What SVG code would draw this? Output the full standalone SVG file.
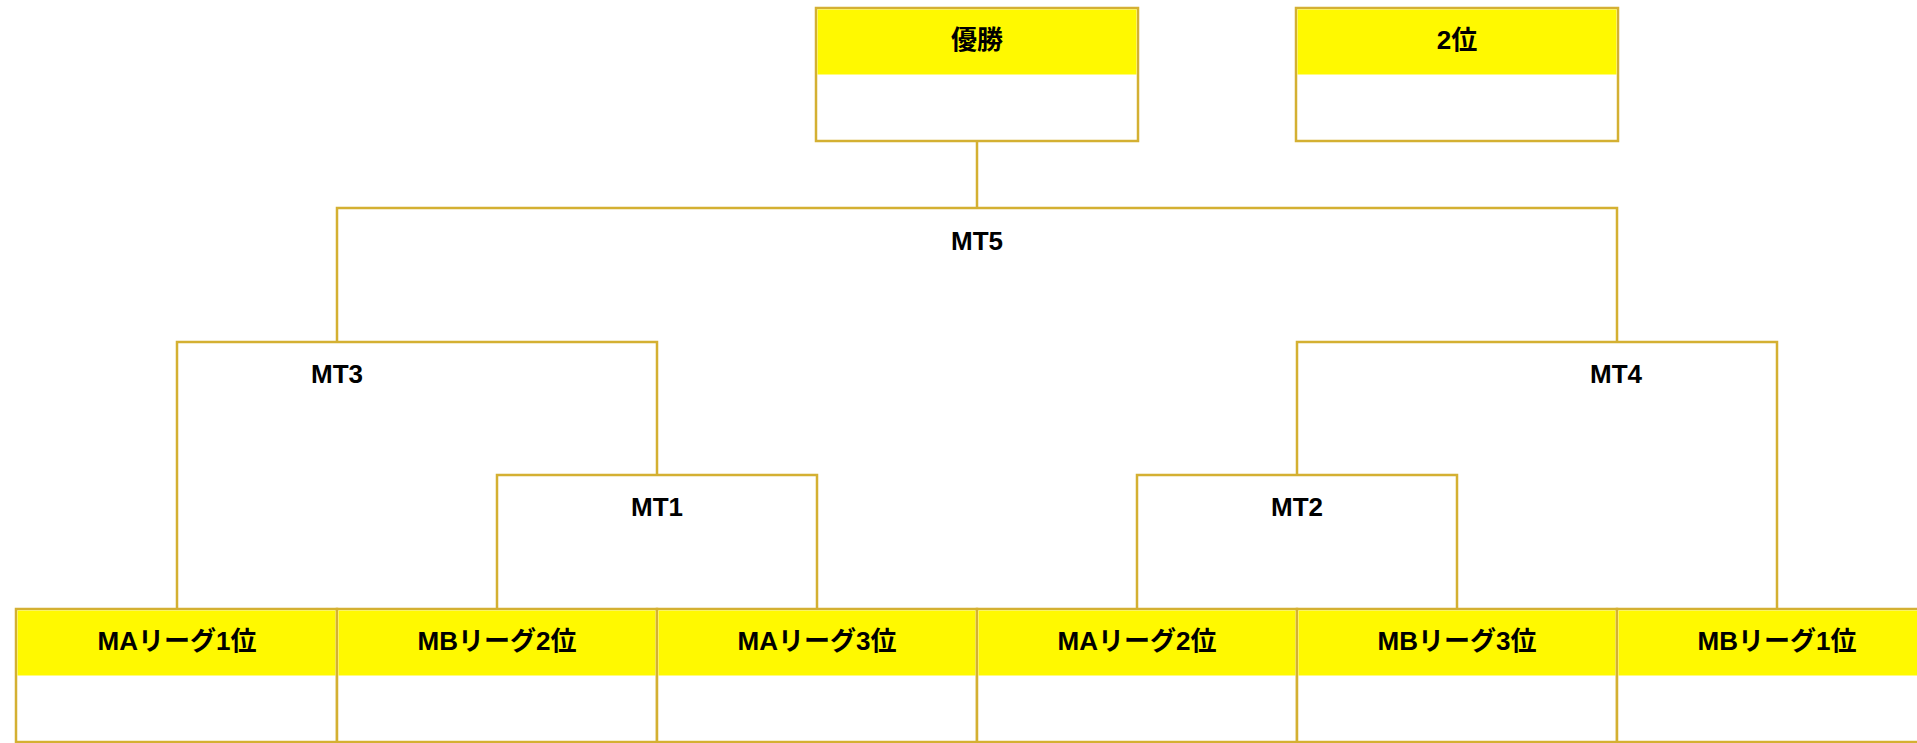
<svg xmlns="http://www.w3.org/2000/svg" width="1917" height="743" viewBox="0 0 1917 743">
<style>
.box{fill:#fff;stroke:#d4b032;stroke-width:2.5}
.hd{fill:#fff900}
.ln{fill:none;stroke:#d4b032;stroke-width:2.5}
.t{font-family:"Liberation Sans","Noto Sans CJK JP",sans-serif;font-weight:bold;font-size:26px;fill:#000;text-anchor:middle}
</style>
<rect width="1917" height="743" fill="#fff"/>
<g id="connectors">
<path class="ln" d="M977 141V208M337 342V208H1617V342"/>
<path class="ln" d="M177 609V342H657V475"/>
<path class="ln" d="M497 609V475H817V609"/>
<path class="ln" d="M1137 609V475H1457V609"/>
<path class="ln" d="M1297 475V342H1777V609"/>
</g>
<g id="labels">
<text class="t" x="977" y="250">MT5</text>
<text class="t" x="337" y="383">MT3</text>
<text class="t" x="1616" y="383">MT4</text>
<text class="t" x="657" y="516">MT1</text>
<text class="t" x="1297" y="516">MT2</text>
</g>
<g id="n-win"><rect class="box" x="816" y="8" width="322" height="133"/><rect class="hd" x="817.5" y="9.5" width="319" height="65"/><text class="t" x="977" y="49">優勝</text></g>
<g id="n-second"><rect class="box" x="1296" y="8" width="322" height="133"/><rect class="hd" x="1297.5" y="9.5" width="319" height="65"/><text class="t" x="1457" y="49">2位</text></g>
<g id="n-ma1"><rect class="box" x="16" y="609" width="321" height="133"/><rect class="hd" x="17.5" y="610.5" width="318" height="65"/><text class="t" x="177" y="650">MAリーグ1位</text></g>
<g id="n-mb2"><rect class="box" x="337" y="609" width="320" height="133"/><rect class="hd" x="338.5" y="610.5" width="317" height="65"/><text class="t" x="497" y="650">MBリーグ2位</text></g>
<g id="n-ma3"><rect class="box" x="657" y="609" width="320" height="133"/><rect class="hd" x="658.5" y="610.5" width="317" height="65"/><text class="t" x="817" y="650">MAリーグ3位</text></g>
<g id="n-ma2"><rect class="box" x="977" y="609" width="320" height="133"/><rect class="hd" x="978.5" y="610.5" width="317" height="65"/><text class="t" x="1137" y="650">MAリーグ2位</text></g>
<g id="n-mb3"><rect class="box" x="1297" y="609" width="320" height="133"/><rect class="hd" x="1298.5" y="610.5" width="317" height="65"/><text class="t" x="1457" y="650">MBリーグ3位</text></g>
<g id="n-mb1"><rect class="box" x="1617" y="609" width="321" height="133"/><rect class="hd" x="1618.5" y="610.5" width="318" height="65"/><text class="t" x="1777" y="650">MBリーグ1位</text></g>
</svg>
